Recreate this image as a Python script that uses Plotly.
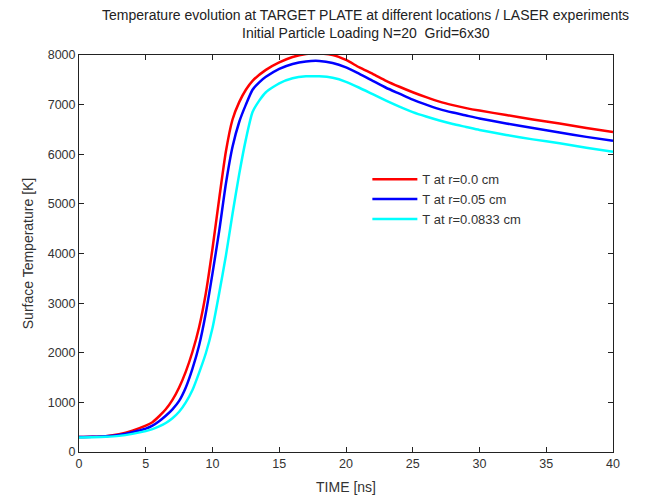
import plotly.graph_objects as go

t_red = [0, 1, 2, 3, 4, 5, 5.5, 6, 6.5, 7, 7.5, 8, 8.5, 9, 9.5, 10, 10.5, 11, 11.5, 12, 12.5, 13, 14, 15, 16, 17, 18, 19, 20, 21, 22, 23, 24, 25, 26, 27, 28, 29, 30, 32, 34, 36, 38, 40]
T_red = [300, 305, 320, 360, 430, 530, 600, 720, 860, 1050, 1300, 1620, 2020, 2520, 3200, 4100, 5100, 6050, 6700, 7050, 7300, 7480, 7700, 7850, 7960, 8020, 8030, 8000, 7900, 7750, 7620, 7480, 7360, 7250, 7150, 7060, 6990, 6930, 6880, 6790, 6700, 6620, 6530, 6450]

t_blue = [0, 1, 2, 3, 4, 5, 5.5, 6, 6.5, 7, 7.5, 8, 8.5, 9, 9.5, 10, 10.5, 11, 11.5, 12, 12.5, 13, 13.5, 14, 15, 16, 17, 18, 19, 20, 21, 22, 23, 24, 25, 26, 27, 28, 29, 30, 32, 34, 36, 38, 40]
T_blue = [300, 305, 318, 345, 400, 470, 530, 620, 730, 860, 1030, 1300, 1680, 2150, 2800, 3600, 4450, 5400, 6150, 6650, 7000, 7300, 7450, 7560, 7720, 7820, 7870, 7880, 7840, 7750, 7620, 7480, 7340, 7220, 7100, 7000, 6910, 6840, 6780, 6720, 6620, 6530, 6440, 6350, 6270]

t_cyan = [0, 1, 2, 3, 4, 5, 5.5, 6, 6.5, 7, 7.5, 8, 8.5, 9, 9.5, 10, 10.5, 11, 11.5, 12, 12.5, 13, 13.5, 14, 15, 16, 17, 18, 19, 20, 21, 22, 23, 24, 25, 26, 27, 28, 29, 30, 32, 34, 36, 38, 40]
T_cyan = [290, 295, 305, 325, 365, 420, 460, 515, 585, 680, 810, 1000, 1250, 1600, 1990, 2500, 3200, 3950, 4800, 5600, 6300, 6850, 7080, 7250, 7430, 7530, 7570, 7570, 7540, 7460, 7340, 7210, 7080, 6960, 6850, 6760, 6680, 6610, 6550, 6490, 6390, 6300, 6220, 6130, 6050]

names = ["T at r=0.0 cm", "T at r=0.05 cm", "T at r=0.0833 cm"]
colors = ["#ff0000", "#0000ff", "#00ffff"]
title_lines = ["Temperature evolution at TARGET PLATE at different locations / LASER experiments",
               "Initial Particle Loading N=20  Grid=6x30"]

fig = go.Figure()
for t, T, n, c in zip([t_red, t_blue, t_cyan], [T_red, T_blue, T_cyan], names, colors):
    fig.add_trace(go.Scatter(x=t, y=T, mode="lines", name=n,
                             line=dict(color=c, width=2.5, shape="spline", smoothing=0.6)))

font_family = "Liberation Sans, Arial, sans-serif"
axis_common = dict(showgrid=False, zeroline=False, showline=True, linecolor="#222",
                   linewidth=1, mirror="allticks", ticks="inside", ticklen=5, automargin=False,
                   tickcolor="#222", tickfont=dict(size=12.5, color="#333", family=font_family))

for i, line in enumerate(title_lines):
    fig.add_annotation(text=line, xref="paper", yref="paper", x=0.537, xanchor="center",
                       y=1, yshift=55 - (15 + 18 * i), yanchor="middle", showarrow=False,
                       font=dict(size=14, color="#222", family=font_family))

fig.update_layout(
    width=663, height=498,
    margin=dict(l=79, r=50, t=55, b=46, autoexpand=False),
    paper_bgcolor="white", plot_bgcolor="white",
    font=dict(family=font_family, color="#333", size=12),
    xaxis=dict(range=[0, 40], tickvals=[0, 5, 10, 15, 20, 25, 30, 35, 40],
               title=dict(text="TIME [ns]", font=dict(size=14, color="#333"), standoff=12), **axis_common),
    yaxis=dict(range=[0, 8000], tickvals=[0, 1000, 2000, 3000, 4000, 5000, 6000, 7000, 8000],
               title=dict(text="Surface Temperature [K]", font=dict(size=14, color="#333"), standoff=10), **axis_common),
    legend=dict(x=0.54, y=0.725, xanchor="left", yanchor="top", bgcolor="rgba(255,255,255,1)",
                borderwidth=0, font=dict(size=13, color="#333"), itemwidth=45, tracegroupgap=0),
    showlegend=True,
)

fig.write_html("out.html")
